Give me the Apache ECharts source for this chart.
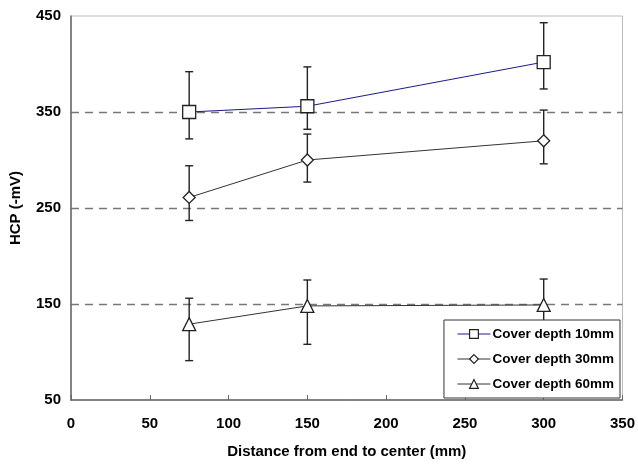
<!DOCTYPE html>
<html><head><meta charset="utf-8">
<script src="https://cdn.jsdelivr.net/npm/echarts@6/dist/echarts.min.js"></script>
<style>html,body{margin:0;padding:0;background:#fff}#c{width:638px;height:464px}</style>
</head><body><div id="c"></div>
<script>
const distances = [75, 150, 300];
const names = ['Cover depth 10mm', 'Cover depth 30mm', 'Cover depth 60mm'];
const hcp10 = [350, 356, 402];
const hcp30 = [261, 300, 320];
const hcp60 = [129, 148, 149];
const hi10 = [392, 397, 443];
const lo10 = [322, 332, 374];
const hi30 = [294, 327, 352];
const lo30 = [237, 277, 296];
const hi60 = [156, 175, 176];
const lo60 = [91, 108, 124];
const gridLines = [150, 250, 350];

const font = 'Liberation Sans, Arial, sans-serif';
function errSeries(hi, lo, withGrid) {
  const s = {
    type: 'custom', silent: true, z: 1, legendHoverLink: false,
    data: distances.map((d, i) => [d, lo[i], hi[i]]),
    renderItem: function (params, api) {
      const x = api.value(0);
      const pLo = api.coord([x, api.value(1)]);
      const pHi = api.coord([x, api.value(2)]);
      const w = 4;
      const st = { stroke: '#222', lineWidth: 1.4 };
      return { type: 'group', children: [
        { type: 'line', shape: { x1: pLo[0], y1: pLo[1], x2: pHi[0], y2: pHi[1] }, style: st },
        { type: 'line', shape: { x1: pLo[0] - w, y1: pLo[1], x2: pLo[0] + w, y2: pLo[1] }, style: st },
        { type: 'line', shape: { x1: pHi[0] - w, y1: pHi[1], x2: pHi[0] + w, y2: pHi[1] }, style: st }
      ]};
    }
  };
  if (withGrid) {
    s.markLine = {
      silent: true, symbol: 'none', label: { show: false }, z: 0,
      lineStyle: { type: [8, 6], color: '#777', width: 1.3 },
      data: gridLines.map(v => ({ yAxis: v }))
    };
  }
  return s;
}
function lineSeries(name, vals, color, symbol, size) {
  return {
    name: name, type: 'line', z: 3,
    data: distances.map((d, i) => [d, vals[i]]),
    symbol: symbol, symbolSize: size, showAllSymbol: true,
    lineStyle: { color: color, width: 1 },
    itemStyle: { color: '#fff', borderColor: '#222', borderWidth: 1.3 },
    emphasis: { disabled: true }
  };
}
const chart = echarts.init(document.getElementById('c'));
chart.setOption({
  animation: false,
  backgroundColor: '#fff',
  grid: { left: 70, right: 15, top: 16, bottom: 63, show: true, borderColor: '#bbb', borderWidth: 1 },
  xAxis: {
    type: 'value', min: 0, max: 350, interval: 50,
    name: 'Distance from end to center (mm)', nameLocation: 'middle', nameGap: 44,
    nameTextStyle: { fontFamily: font, fontWeight: 'bold', fontSize: 15, color: '#000' },
    axisLine: { lineStyle: { color: '#666', width: 1.5 } },
    axisTick: { inside: true, length: 5, lineStyle: { color: '#666' } },
    axisLabel: { fontFamily: font, fontWeight: 'bold', fontSize: 15, color: '#000', margin: 16 },
    splitLine: { show: false }
  },
  yAxis: {
    type: 'value', min: 50, max: 450, interval: 100,
    name: 'HCP (-mV)', nameLocation: 'middle', nameGap: 48,
    nameTextStyle: { fontFamily: font, fontWeight: 'bold', fontSize: 15, color: '#000' },
    axisLine: { show: true, lineStyle: { color: '#666', width: 1.5 } },
    axisTick: { show: false },
    axisLabel: { fontFamily: font, fontWeight: 'bold', fontSize: 15, color: '#000', margin: 10 },
    splitLine: { show: false }
  },
  legend: {
    data: names, orient: 'vertical', right: 18, top: 320,
    backgroundColor: '#fff', borderColor: '#333', borderWidth: 1,
    padding: [7, 6, 7, 13], itemGap: 11, itemWidth: 33, itemHeight: 11,
    lineStyle: { width: 1 },
    itemStyle: { borderWidth: 1.2, borderColor: '#222' },
    textStyle: { fontFamily: font, fontWeight: 'bold', fontSize: 13.5, color: '#000', padding: [0, 0, 0, -3] },
    selectedMode: false
  },
  series: [
    errSeries(hi10, lo10, true), errSeries(hi30, lo30, false), errSeries(hi60, lo60, false),
    lineSeries(names[0], hcp10, '#1a1a8c', 'rect', 13),
    lineSeries(names[1], hcp30, '#333', 'diamond', 12),
    lineSeries(names[2], hcp60, '#333', 'triangle', 13)
  ]
});
</script></body></html>
